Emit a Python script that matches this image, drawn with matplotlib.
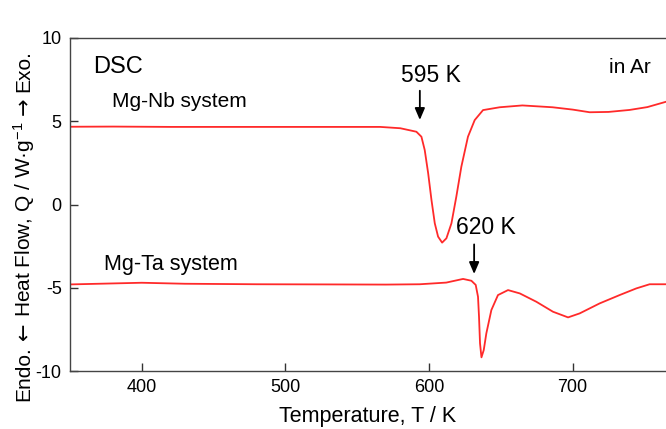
import matplotlib.pyplot as plt

plt.rcParams['font.family'] = ['Liberation Sans', 'DejaVu Sans']
plt.rcParams['mathtext.fontset'] = 'custom'
plt.rcParams['mathtext.rm'] = 'Liberation Sans'
plt.rcParams['mathtext.it'] = 'Liberation Sans'
plt.rcParams['axes.unicode_minus'] = False

# Mg-Nb system DSC curve
nb_temp = [350, 380, 420, 470, 520, 566, 580, 591.2, 594.7, 597, 599.4, 601.7,
           604, 606.3, 609.1, 612.1, 615.6, 619, 622.5, 627.1, 631.8, 637.6,
           649.2, 665, 686, 700, 711.9, 725, 739.7, 752, 765]
nb_flow = [4.67, 4.68, 4.66, 4.66, 4.66, 4.66, 4.58, 4.37, 4.07, 3.27, 1.87, 0.27,
           -1.13, -1.93, -2.29, -2.03, -1.13, 0.47, 2.27, 4.07, 5.07, 5.67,
           5.84, 5.95, 5.84, 5.70, 5.54, 5.56, 5.68, 5.85, 6.17]

# Mg-Ta system DSC curve
ta_temp = [350, 380, 400, 430, 480, 530, 570, 593.6, 612, 623.7, 629.5, 632.5,
           634.1, 634.8, 635.5, 636.5, 638.1, 639.9, 643.4, 648, 655, 663.2,
           674.7, 686.3, 696.8, 704.9, 718.8, 732.7, 744.3, 753.6, 765]
ta_flow = [-4.80, -4.74, -4.70, -4.76, -4.79, -4.80, -4.81, -4.79, -4.69, -4.47, -4.58, -4.83,
           -5.54, -6.74, -8.34, -9.18, -8.74, -7.74, -6.34, -5.44, -5.14, -5.34,
           -5.84, -6.44, -6.78, -6.54, -5.94, -5.44, -5.04, -4.79, -4.79]

# Creating the figure
fig = plt.figure(figsize=(6.66, 4.29), dpi=100)
ax = fig.add_axes([70 / 666, 58 / 429, 596 / 666, 333 / 429])

# Adding data to the axis
ax.plot(nb_temp, nb_flow, color='#ff2a2a', lw=1.3, solid_joinstyle='round')
ax.plot(ta_temp, ta_flow, color='#ff2a2a', lw=1.3, solid_joinstyle='round')

# Customizing the axis
ax.set_xlim(350, 765)
ax.set_ylim(-10, 10)
ax.set_xticks([400, 500, 600, 700])
ax.set_yticks([-10, -5, 0, 5, 10])
ax.tick_params(direction='in', length=6, width=1, labelsize=13, pad=6, color='#333333')
ax.spines['right'].set_visible(False)
for s in ['left', 'top', 'bottom']:
    ax.spines[s].set_color('#444444')
    ax.spines[s].set_linewidth(1.0)
ax.set_xlabel("Temperature, T / K", fontsize=15.5, labelpad=7)

# y label built from pieces so the arrows come out full size
pieces = [("Endo.", 'Liberation Sans', 15),
          ("\u2190", 'DejaVu Sans', 15),
          ("Heat Flow, Q / W\u00b7g$^{-1}$", 'Liberation Sans', 15),
          ("\u2192", 'DejaVu Sans', 15),
          ("Exo.", 'Liberation Sans', 15)]
renderer = fig.canvas.get_renderer()
ypix = 429 - 401
for s, fam, fs in pieces:
    t = fig.text(24 / 666, ypix / 429, s, rotation=90, ha='center', va='bottom',
                 family=fam, fontsize=fs)
    bb = t.get_window_extent(renderer)
    ypix += bb.height + 6

# Annotations
ax.text(366, 8.23, "DSC", fontsize=17, va='center', ha='left')
ax.text(379, 6.17, "Mg-Nb system", fontsize=15, va='center', ha='left')
ax.text(374, -3.6, "Mg-Ta system", fontsize=15.5, va='center', ha='left')
ax.text(725, 8.2, "in Ar", fontsize=15, va='center', ha='left')

ax.annotate("", xy=(593.6, 4.91), xytext=(593.6, 7.0),
            arrowprops=dict(arrowstyle='-|>,head_length=0.7,head_width=0.3', color='black', lw=1.3))
ax.text(601, 7.75, "595 K", fontsize=16.5, va='center', ha='center')

ax.annotate("", xy=(631.4, -4.34), xytext=(631.4, -2.23),
            arrowprops=dict(arrowstyle='-|>,head_length=0.7,head_width=0.3', color='black', lw=1.3))
ax.text(639.5, -1.4, "620 K", fontsize=16.5, va='center', ha='center')

# Saving the chart
plt.savefig("out.png")
plt.close()
